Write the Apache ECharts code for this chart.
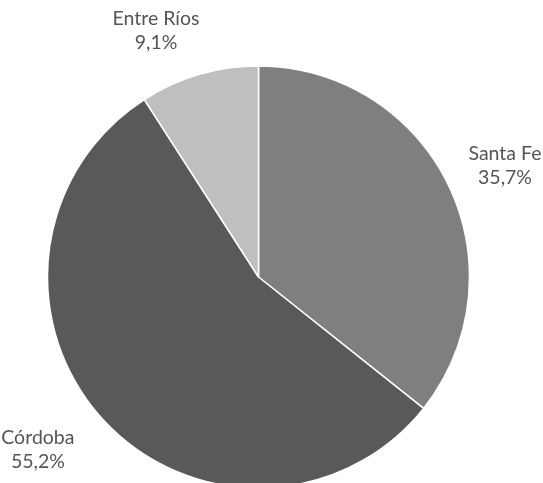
<!DOCTYPE html>
<html>
<head>
<meta charset="utf-8">
<script src="https://cdn.jsdelivr.net/npm/echarts@6/dist/echarts.min.js"></script>
<style>
html,body{margin:0;padding:0;background:#fff;}
#chart{width:543px;height:483px;}
</style>
</head>
<body>
<div id="chart"></div>
<script>
const categories = ['Santa Fe', 'Córdoba', 'Entre Ríos'];
const values = [35.7, 55.2, 9.1];
const colors = ['#7f7f7f', '#595959', '#bfbfbf'];

const pieCenter = [258.5, 277];
const chart = echarts.init(document.getElementById('chart'), null, {renderer: 'canvas'});
const data = categories.map((c, i) => ({name: c, value: values[i], itemStyle: {color: colors[i]}}));

chart.setOption({
  backgroundColor: '#ffffff',
  animation: false,
  series: [{
    type: 'pie',
    center: pieCenter,
    radius: 211,
    startAngle: 90,
    clockwise: true,
    avoidLabelOverlap: false,
    itemStyle: {borderColor: '#ffffff', borderWidth: 1.5},
    label: {
      show: true,
      position: 'outside',
      width: 100,
      fontFamily: 'Lato',
      fontSize: 19.5,
      lineHeight: 24,
      color: '#555555',
      distanceToLabelLine: 5,
      formatter: p => p.name + '\n' + p.value.toFixed(1).replace('.', ',') + '%'
    },
    labelLine: {show: false, length: 46, length2: 10},
    labelLayout: function (params) {
      const pts = params.labelLinePoints;
      const leftSide = pts && pts[0][0] < pieCenter[0];
      return {align: 'center', verticalAlign: 'middle', dx: leftSide ? -15 : 0};
    },
    emphasis: {disabled: true},
    data: data
  }]
});
</script>
</body>
</html>
